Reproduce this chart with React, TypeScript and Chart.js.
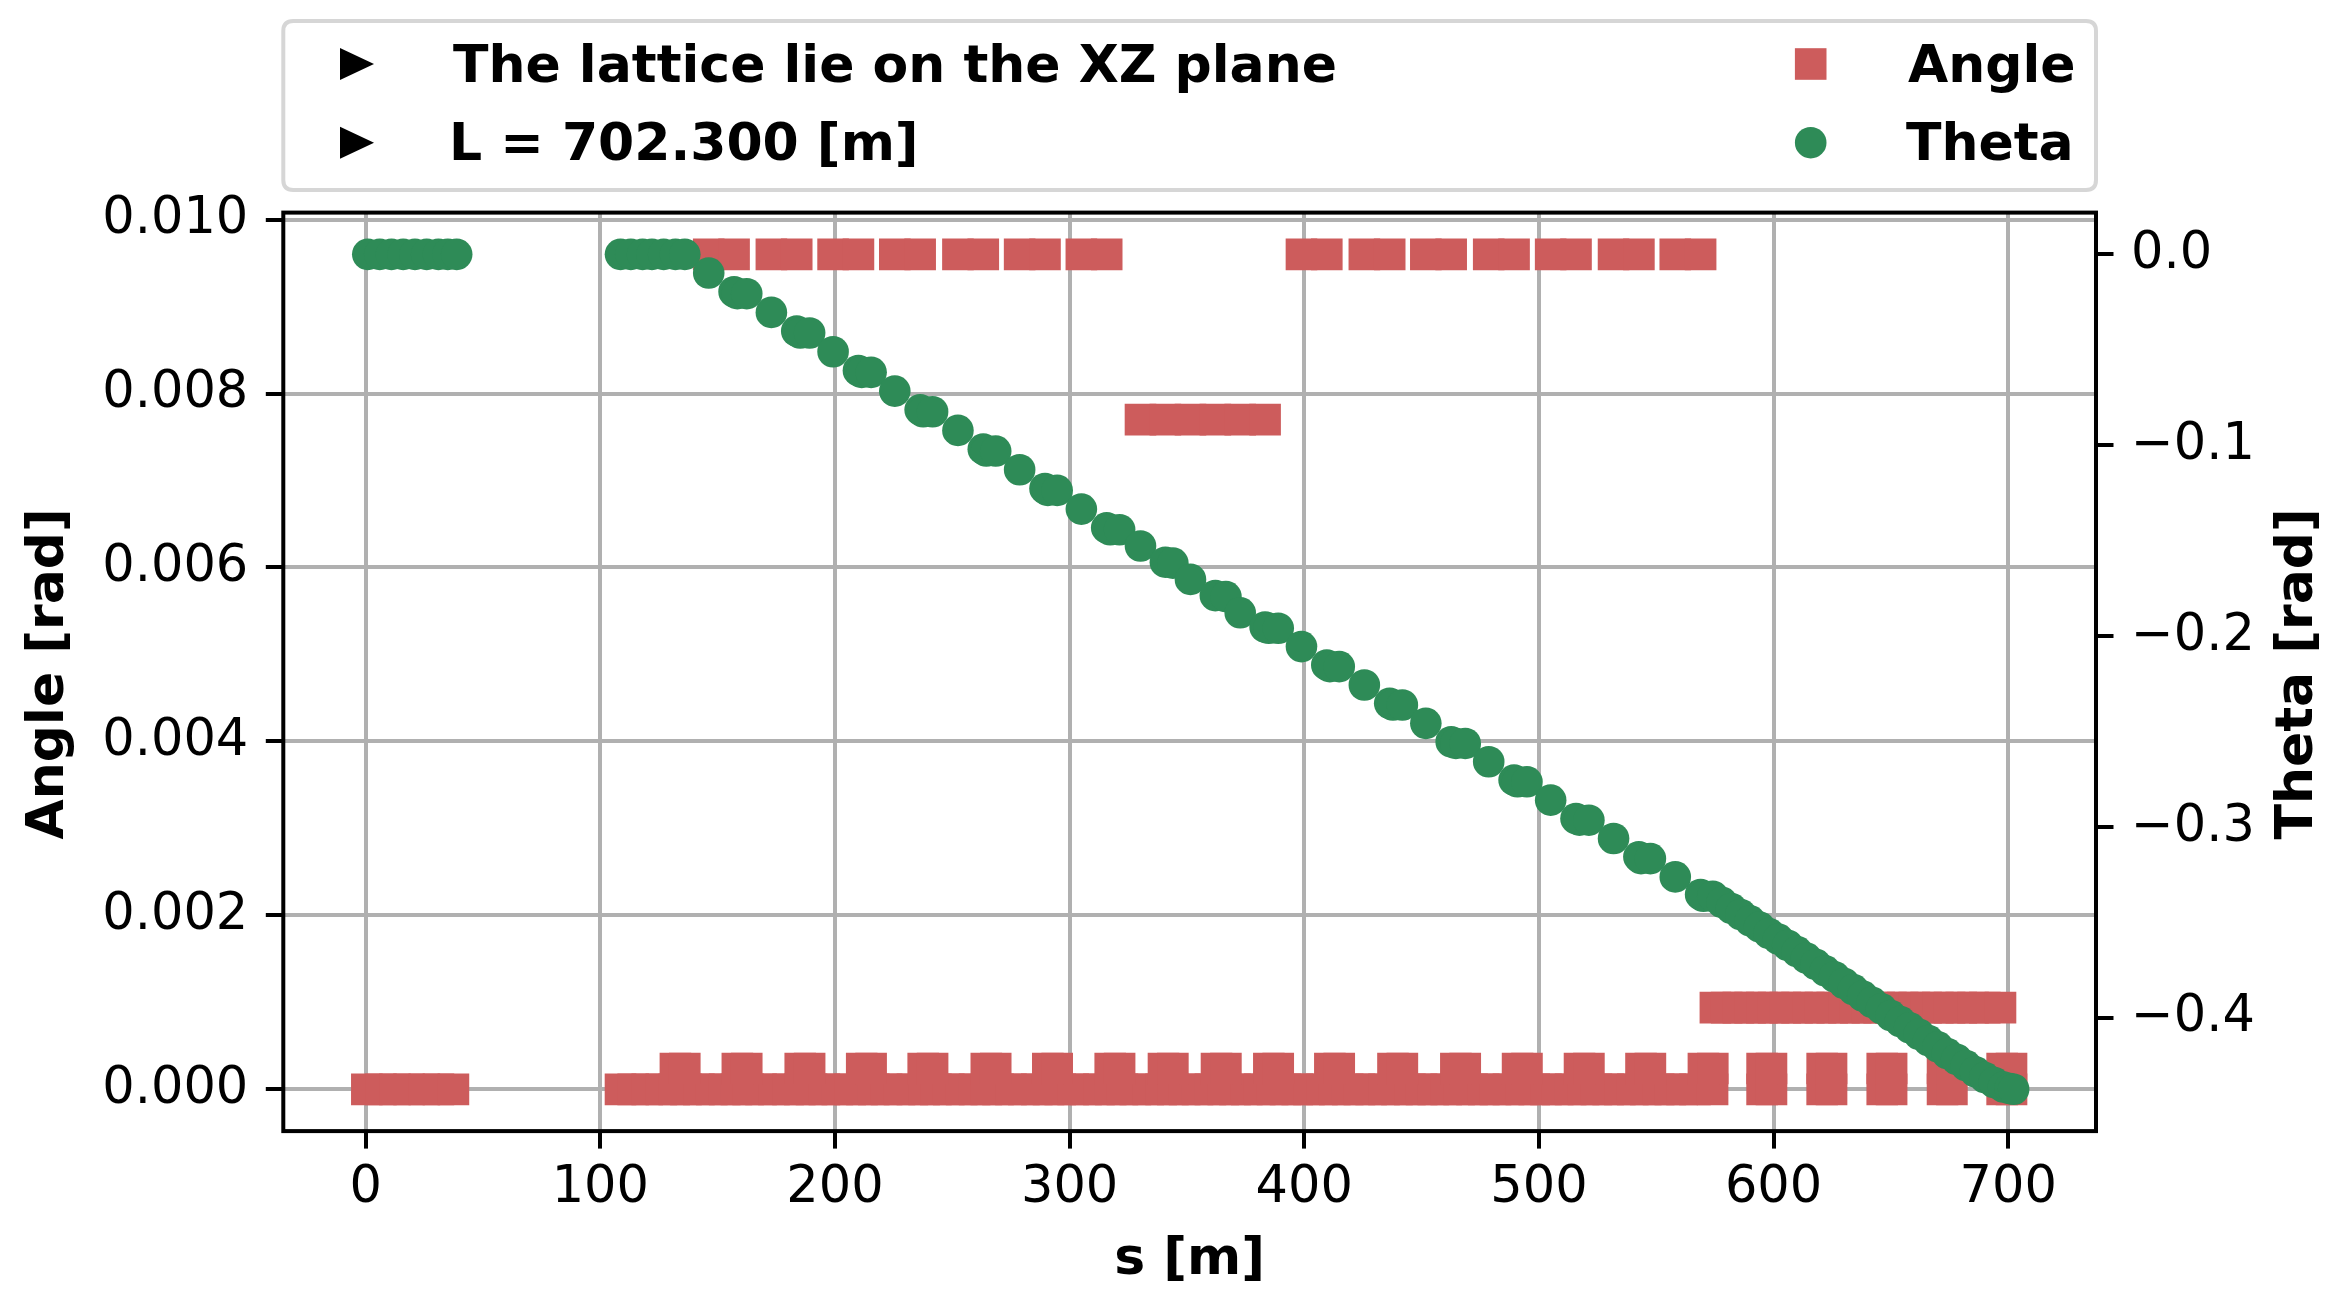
import React, { useEffect, useRef } from "react";
import { Chart, registerables } from "chart.js";

Chart.register(...registerables);

// ---------------- data ----------------
const X_TICKS = [0, 100, 200, 300, 400, 500, 600, 700];
const ANGLE_TICKS = [0, 0.002, 0.004, 0.006, 0.008, 0.01];
const THETA_TICKS = [-0.4, -0.3, -0.2, -0.1, 0.0];

const LEGEND_NOTES = ["The lattice lie on the XZ plane", "L = 702.300 [m]"];
const SERIES_NAMES = ["Angle", "Theta"];
const AXIS_TITLES = ["s [m]", "Angle [rad]", "Theta [rad]"];

// Angle: zero-angle elements
const ZERO_S = [
  0.5, 6.5, 12.5, 18.5, 25, 31, 37.4,
  108.6, 114, 120, 126, 131.5, 136.5, 142, 147.5, 153, 158, 163, 168.5, 174, 180,
  185, 190, 195.5, 201, 206.5, 211.5, 216.5, 222, 227.5, 233, 238, 243, 248.5, 254,
  259.5, 264.5, 269.5, 275, 280.5, 286, 291, 296, 301.5, 307, 312.5, 317.5, 322.5,
  328, 333.5, 339, 344, 349, 354.5, 360, 365.5, 370.5, 375.5, 381, 386.5, 392, 397,
  402, 407.5, 413, 418.5, 423.5, 428.5, 434, 439.5, 445, 450, 455, 460.5, 466, 471.5,
  476.5, 481.5, 487, 492.5, 498, 503, 508, 513.5, 519, 524.5, 529.5, 534.5, 540,
  545.5, 551, 556, 561, 566.5, 574,
  595.1, 599.1, 620.7, 624.7, 646.3, 650.3, 672.0, 676.0, 697.4, 701.4,
];
const ZERO_ANGLE = 0;

// Angle: small kicks at the quadrupole positions
const KICK_S = [
  132.0, 136.0, 158.4, 162.4, 185.2, 189.2, 211.4, 215.4, 237.6, 241.6, 264.5, 268.5,
  290.7, 294.7, 317.3, 321.3, 340.0, 344.0, 362.6, 366.6, 384.9, 388.9, 410.9, 414.9,
  437.8, 441.8, 464.6, 468.6, 490.9, 494.9, 517.3, 521.3, 543.5, 547.5, 570.1, 574.1,
  595.1, 599.1, 620.7, 624.7, 646.3, 650.3, 672.0, 676.0, 697.4, 701.4,
];
const KICK_ANGLE = 0.00024;

// Angle: main dipoles
const DIPOLE_S = [
  146.2, 157.0, 172.9, 183.7, 199.2, 210.0, 225.5, 236.3, 252.4, 263.2, 278.7, 289.5,
  305.0, 315.8, 398.8, 409.6, 425.6, 436.4, 451.8, 462.6, 478.6, 489.4, 505.0, 515.8,
  531.8, 542.6, 558.1, 568.9,
];
const DIPOLE_ANGLE = 0.0096;

// Angle: middle dipole block
const MID_DIPOLE_S = [330.2, 340.8, 351.5, 362.1, 372.7, 383.3];
const MID_DIPOLE_ANGLE = 0.0077;

// Angle: weak dipole slices at the end
const TAIL_DIPOLE_S = [
  575.2, 580, 585, 590, 595, 600, 605, 610, 615, 620, 625, 630, 635, 640, 645, 650,
  655, 660, 665, 670, 675, 680, 685, 690, 696.7,
];
const TAIL_DIPOLE_ANGLE = 0.00094;

// Theta
const THETA_S = [
  0.9, 6, 11, 16, 21, 26, 31, 35, 38.8,
  108.6, 113, 118, 122, 127, 132, 136,
  146.2, 157.0, 158.4, 162.4, 172.9, 183.7, 185.2, 189.2, 199.2, 210.0, 211.4, 215.4,
  225.5, 236.3, 237.6, 241.6, 252.4, 263.2, 264.5, 268.5, 278.7, 289.5, 290.7, 294.7,
  305.0, 315.8, 317.3, 321.3,
  330.2, 340.8, 344.0, 351.5, 362.1, 366.6, 372.7, 383.3, 384.9, 388.9,
  398.8, 409.6, 410.9, 414.9, 425.6, 436.4, 437.8, 441.8, 451.8, 462.6, 464.6, 468.6,
  478.6, 489.4, 490.9, 494.9, 505.0, 515.8, 517.3, 521.3, 531.8, 542.6, 543.5, 547.5,
  558.1, 568.9, 570.1, 574.1,
  578, 582, 586, 590, 594, 598, 602, 606, 610, 614, 618, 622, 626, 630, 634, 638, 642,
  646, 650, 654, 658, 662, 666, 670, 674, 678, 682, 686, 690, 694, 698, 700.7, 702.3,
];
const THETA_VALUES = [
  0, 0, 0, 0, 0, 0, 0, 0, 0,
  0, 0, 0, 0, 0, 0, 0,
  -0.0098, -0.0196, -0.0206, -0.0206, -0.0304, -0.0402, -0.0412, -0.0412, -0.051,
  -0.0608, -0.0618, -0.0618, -0.0716, -0.0814, -0.0824, -0.0824, -0.0922, -0.102,
  -0.103, -0.103, -0.1128, -0.1226, -0.1236, -0.1236, -0.1334, -0.1432, -0.1442,
  -0.1442,
  -0.1527, -0.1612, -0.1617, -0.1702, -0.1787, -0.1792, -0.1877, -0.1952, -0.1958,
  -0.1958,
  -0.2054, -0.215, -0.2159, -0.2159, -0.2255, -0.2351, -0.236, -0.236, -0.2456,
  -0.2552, -0.2561, -0.2561, -0.2657, -0.2753, -0.2762, -0.2762, -0.2858, -0.2954,
  -0.2963, -0.2963, -0.3059, -0.3155, -0.3164, -0.3164, -0.326, -0.3352, -0.3361,
  -0.3361,
  -0.3393, -0.3425, -0.3457, -0.349, -0.3522, -0.3556, -0.3586, -0.3618, -0.3651,
  -0.3685, -0.3718, -0.3752, -0.3783, -0.3817, -0.385, -0.3884, -0.3917, -0.395,
  -0.3986, -0.4017, -0.405, -0.4084, -0.4117, -0.415, -0.4185, -0.4215, -0.4248,
  -0.428, -0.4311, -0.4337, -0.436, -0.4368, -0.4372,
];

// ---------------- style / layout ----------------
const W = 2331;
const H = 1297;
const AREA = { left: 283.3, right: 2096, top: 212.6, bottom: 1131.1 };
const RED = "#cd5c5c";
const GREEN = "#2e8b57";
const FONT = '"DejaVu Sans", "Liberation Sans", sans-serif';
const FS_BOLD = 52;
const FS_TICK = 51;

const toPts = (xs: number[], y: number) => xs.map((x) => ({ x, y }));

const framePlugin = {
  id: "mplFrame",
  afterDatasetsDraw(chart: any) {
    const { ctx, chartArea: a } = chart;
    ctx.save();
    ctx.strokeStyle = "#000";
    ctx.lineWidth = 4;
    ctx.strokeRect(a.left, a.top, a.right - a.left, a.bottom - a.top);
    ctx.restore();
  },
  afterDraw(chart: any) {
    const { ctx, chartArea: a } = chart;
    ctx.save();
    // axis titles
    ctx.fillStyle = "#000";
    ctx.font = `bold ${FS_BOLD}px ${FONT}`;
    ctx.textAlign = "center";
    ctx.textBaseline = "middle";
    ctx.fillText(AXIS_TITLES[0], (a.left + a.right) / 2, 1260);
    const cy = (a.top + a.bottom) / 2 + 2;
    ctx.save();
    ctx.translate(49, cy);
    ctx.rotate(-Math.PI / 2);
    ctx.fillText(AXIS_TITLES[1], 0, 0);
    ctx.restore();
    ctx.save();
    ctx.translate(2298, cy);
    ctx.rotate(-Math.PI / 2);
    ctx.fillText(AXIS_TITLES[2], 0, 0);
    ctx.restore();

    // legend box
    const x0 = a.left, x1 = a.right, y0 = 21, y1 = 190, r = 10;
    ctx.beginPath();
    ctx.moveTo(x0 + r, y0);
    ctx.lineTo(x1 - r, y0);
    ctx.quadraticCurveTo(x1, y0, x1, y0 + r);
    ctx.lineTo(x1, y1 - r);
    ctx.quadraticCurveTo(x1, y1, x1 - r, y1);
    ctx.lineTo(x0 + r, y1);
    ctx.quadraticCurveTo(x0, y1, x0, y1 - r);
    ctx.lineTo(x0, y0 + r);
    ctx.quadraticCurveTo(x0, y0, x0 + r, y0);
    ctx.closePath();
    ctx.fillStyle = "rgba(255,255,255,0.8)";
    ctx.fill();
    ctx.strokeStyle = "#d6d6d6";
    ctx.lineWidth = 4;
    ctx.stroke();

    const rows = [64, 142.7];
    // triangles
    ctx.fillStyle = "#000";
    rows.forEach((ry) => {
      ctx.beginPath();
      ctx.moveTo(357 + 17, ry);
      ctx.lineTo(357 - 17, ry - 16);
      ctx.lineTo(357 - 17, ry + 16);
      ctx.closePath();
      ctx.fill();
    });
    // series markers
    ctx.fillStyle = RED;
    ctx.fillRect(1810.7 - 15.8, rows[0] - 15.8, 31.6, 31.6);
    ctx.fillStyle = GREEN;
    ctx.beginPath();
    ctx.arc(1810.7, rows[1], 15.8, 0, Math.PI * 2);
    ctx.fill();
    // texts
    ctx.fillStyle = "#000";
    ctx.textAlign = "left";
    ctx.textBaseline = "middle";
    ctx.font = `bold ${FS_BOLD}px ${FONT}`;
    ctx.fillText(LEGEND_NOTES[0], 453, rows[0] + 4);
    ctx.fillText(LEGEND_NOTES[1], 449, rows[1] + 4);
    ctx.fillText(SERIES_NAMES[0], 1908, rows[0] + 4);
    ctx.fillText(SERIES_NAMES[1], 1906, rows[1] + 4);
    ctx.restore();
  },
};

export default function App() {
  const ref = useRef<HTMLCanvasElement | null>(null);

  useEffect(() => {
    if (!ref.current) return;
    const anglePts = [
      ...toPts(ZERO_S, ZERO_ANGLE),
      ...toPts(KICK_S, KICK_ANGLE),
      ...toPts(DIPOLE_S, DIPOLE_ANGLE),
      ...toPts(MID_DIPOLE_S, MID_DIPOLE_ANGLE),
      ...toPts(TAIL_DIPOLE_S, TAIL_DIPOLE_ANGLE),
    ];
    const thetaPts = THETA_S.map((x, i) => ({ x, y: THETA_VALUES[i] }));

    const tickFont = { family: FONT, size: FS_TICK };
    const chart = new Chart(ref.current, {
      type: "scatter",
      data: {
        datasets: [
          {
            label: SERIES_NAMES[1],
            data: thetaPts,
            yAxisID: "y2",
            pointStyle: "circle",
            pointRadius: 15.8,
            pointBorderWidth: 0,
            backgroundColor: GREEN,
            borderColor: GREEN,
            order: 0,
          },
          {
            label: SERIES_NAMES[0],
            data: anglePts,
            yAxisID: "y",
            pointStyle: "rect",
            pointRadius: 22.35,
            pointBorderWidth: 0,
            backgroundColor: RED,
            borderColor: RED,
            order: 1,
          },
        ],
      },
      options: {
        animation: false,
        responsive: false,
        devicePixelRatio: 1,
        events: [],
        layout: { padding: { top: AREA.top, left: 0, right: 0, bottom: 0 } },
        plugins: { legend: { display: false }, tooltip: { enabled: false } },
        scales: {
          x: {
            type: "linear",
            position: "bottom",
            min: -35.1,
            max: 737.4,
            afterBuildTicks: (axis: any) => {
              axis.ticks = X_TICKS.map((v) => ({ value: v }));
            },
            afterFit: (s: any) => {
              s.height = H - AREA.bottom;
            },
            ticks: {
              font: tickFont,
              color: "#000",
              padding: 10,
              maxRotation: 0,
              minRotation: 0,
              autoSkip: false,
              callback: (v: any) => String(v),
            },
            grid: {
              color: "#b0b0b0",
              lineWidth: 4,
              tickColor: "#000",
              tickWidth: 4,
              tickLength: 17.5,
            },
            border: { display: false },
          },
          y: {
            type: "linear",
            position: "left",
            min: -0.00048,
            max: 0.01008,
            afterBuildTicks: (axis: any) => {
              axis.ticks = ANGLE_TICKS.map((v) => ({ value: v }));
            },
            afterFit: (s: any) => {
              s.width = AREA.left;
            },
            ticks: {
              font: tickFont,
              color: "#000",
              padding: 17.5,
              autoSkip: false,
              callback: (v: any) => Number(v).toFixed(3),
            },
            grid: {
              color: "#b0b0b0",
              lineWidth: 4,
              tickColor: "#000",
              tickWidth: 4,
              tickLength: 17.5,
            },
            border: { display: false },
          },
          y2: {
            type: "linear",
            position: "right",
            min: -0.4591,
            max: 0.02186,
            afterBuildTicks: (axis: any) => {
              axis.ticks = THETA_TICKS.map((v) => ({ value: v }));
            },
            afterFit: (s: any) => {
              s.width = W - AREA.right;
            },
            ticks: {
              font: tickFont,
              color: "#000",
              padding: 17.5,
              autoSkip: false,
              callback: (v: any) => {
                const n = Number(v);
                if (Math.abs(n) < 1e-9) return "0.0";
                return (n < 0 ? "\u2212" : "") + Math.abs(n).toFixed(1);
              },
            },
            grid: {
              display: true,
              drawOnChartArea: false,
              color: "#b0b0b0",
              lineWidth: 4,
              tickColor: "#000",
              tickWidth: 4,
              tickLength: 17.5,
            },
            border: { display: false },
          },
        },
      } as any,
      plugins: [framePlugin],
    });
    return () => chart.destroy();
  }, []);

  return (
    <div
      style={{
        position: "fixed",
        left: 0,
        top: 0,
        width: W,
        height: H,
        background: "#fff",
      }}
    >
      <canvas ref={ref} width={W} height={H} style={{ width: W, height: H, display: "block" }} />
    </div>
  );
}
